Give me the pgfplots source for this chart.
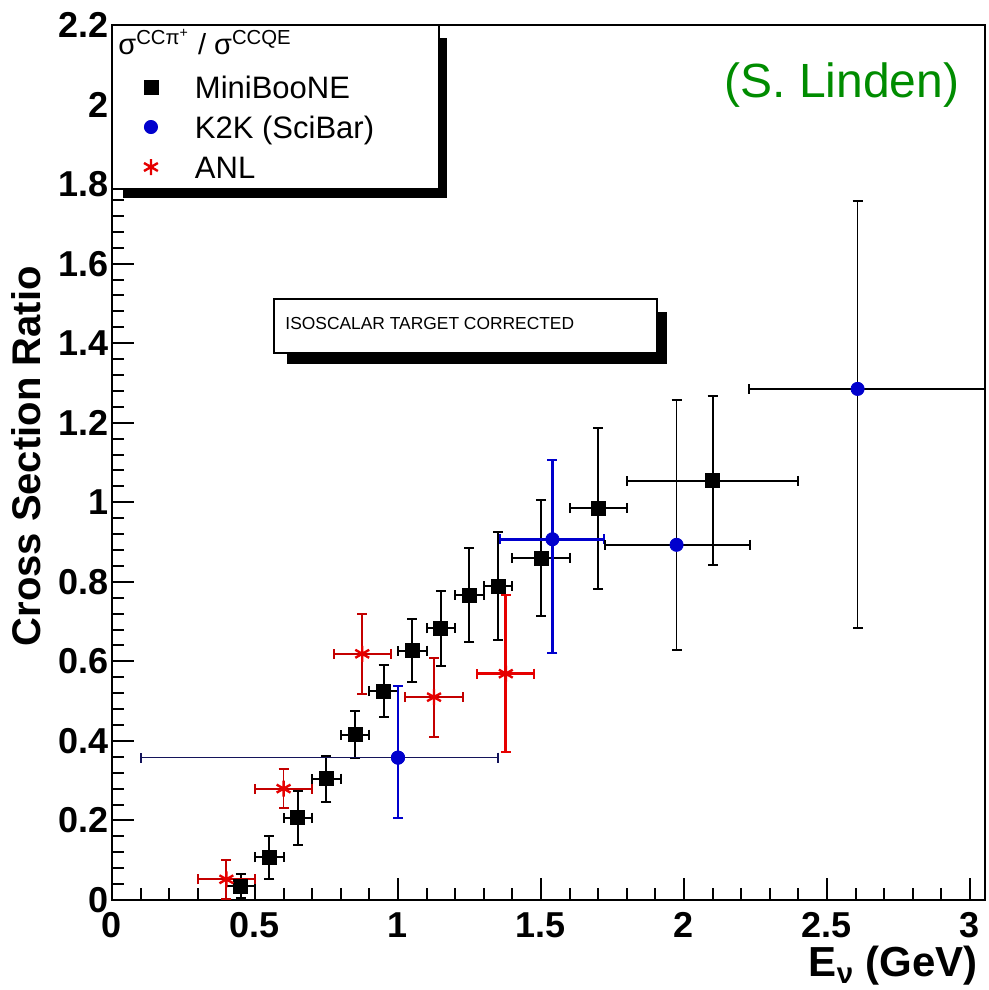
\documentclass[border=0pt]{standalone}
\usepackage{pgfplots}
\pgfplotsset{compat=1.18}
\usepackage{fontspec}
\setmainfont{Liberation Sans}
\definecolor{kblue}{RGB}{0,0,205}
\definecolor{kdark}{RGB}{20,20,90}
\definecolor{anlred}{RGB}{230,0,0}
\definecolor{lgreen}{RGB}{0,140,0}
\begin{document}
\begin{tikzpicture}
\begin{axis}[
  scale only axis, width=436.5pt, height=437.5pt,
  xmin=0, xmax=3.0525, ymin=0, ymax=2.2,
  axis line style={line width=1.2pt},
  xtick={0,0.5,1,1.5,2,2.5,3},
  ytick={0,0.2,0.4,0.6,0.8,1,1.2,1.4,1.6,1.8,2,2.2},
  minor x tick num=4, minor y tick num=4,
  tick align=inside, xtick pos=bottom, ytick pos=left,
  major tick length=11pt, minor tick length=6pt,
  tick style={line width=1pt, black},
  /pgf/number format/assume math mode=true,
  ticklabel style={font=\fontsize{18}{20}\selectfont\bfseries, inner sep=1.5pt},
  xticklabel style={yshift=-4.5pt},
  xlabel={E\textsubscript{ν} (GeV)},
  xlabel style={at={(rel axis cs:1,-0.088)}, anchor=base east, font=\fontsize{21}{24}\selectfont\bfseries},
  ylabel={Cross Section Ratio},
  ylabel style={at={(rel axis cs:-0.0985,0.507)}, anchor=center, font=\fontsize{20}{22}\selectfont\bfseries},
  legend style={at={(rel axis cs:0.0366,0.9417)}, anchor=north west, draw=none, fill=none,
    inner sep=0pt, outer sep=0pt, font=\fontsize{15.5}{18}\selectfont,
    row sep=9pt, column sep=18.5pt, nodes={inner sep=0pt, text height=11pt, text depth=0pt}},
  legend cell align=left,
  error bars/error mark options={rotate=90, mark size=2.5pt, line width=1pt},
]
\coordinate (ll) at (rel axis cs:0,0);
\coordinate (ur) at (rel axis cs:1,1);
% decorative boxes
\fill[black] (rel axis cs:0.0126,0.8023) rectangle (rel axis cs:0.3837,0.9851);
\draw[fill=white, line width=1pt] (rel axis cs:0,0.8126) rectangle (rel axis cs:0.3746,1);
\fill[black] (rel axis cs:0.2005,0.6126) rectangle (rel axis cs:0.6357,0.672);
\draw[fill=white, line width=0.9pt] (rel axis cs:0.1856,0.6251) rectangle (rel axis cs:0.6243,0.6869);
\node[anchor=west, inner sep=0pt, font=\fontsize{8.7}{10}\selectfont] at (rel axis cs:0.1982,0.6594) {ISOSCALAR TARGET CORRECTED};
\node[anchor=base west, inner sep=0pt, font=\fontsize{14.5}{17}\selectfont] at (rel axis cs:0.0069,0.966) {σ\textsuperscript{CCπ\textsuperscript{+}} / σ\textsuperscript{CCQE}};
\node[anchor=center, text=lgreen, font=\fontsize{24}{28}\selectfont] at (rel axis cs:0.836,0.931) {(S. Linden)};

% MiniBooNE
\addplot[only marks, mark=square*, mark size=3.5pt, black,
  error bars/.cd, x dir=both, x explicit, y dir=both, y explicit,
  error bar style={line width=1pt, black}]
coordinates {
(0.45,0.035) +- (0.05,0.03)
(0.55,0.107) +- (0.05,0.055)
(0.65,0.207) +- (0.05,0.068)
(0.75,0.305) +- (0.05,0.058)
(0.85,0.416) +- (0.05,0.058)
(0.95,0.525) +- (0.05,0.066)
(1.05,0.627) +- (0.05,0.080)
(1.15,0.683) +- (0.05,0.094)
(1.25,0.767) +- (0.05,0.119)
(1.35,0.789) +- (0.05,0.135)
(1.50,0.860) +- (0.10,0.146)
(1.70,0.985) +- (0.10,0.202)
(2.10,1.054) +- (0.30,0.212)
};
\addlegendentry{MiniBooNE}

% K2K (SciBar)
\addplot[only marks, mark=*, mark size=3.3pt, kblue,
  error bars/.cd, x dir=both, x explicit, y dir=both, y explicit,
  error bar style={line width=1.3pt, kblue}]
coordinates {
(1.54,0.907) += (0.181,0.199) -= (0.183,0.287)
};
\addlegendentry{K2K (SciBar)}
\addplot[forget plot, only marks, mark=*, mark size=3.3pt, kblue,
  error bars/.cd, x dir=both, x explicit,
  error bar style={line width=0.8pt, kdark}]
coordinates {
(1.00,0.358) += (0.35,0) -= (0.90,0)
};
\addplot[forget plot, only marks, mark=*, mark size=3.3pt, kblue,
  error bars/.cd, y dir=both, y explicit,
  error bar style={line width=1.3pt, kblue}]
coordinates {
(1.00,0.358) += (0,0.18) -= (0,0.151)
};
\addplot[forget plot, only marks, mark=*, mark size=3.3pt, kblue,
  error bars/.cd, x dir=both, x explicit, y dir=both, y explicit,
  error bar style={line width=0.8pt, black}]
coordinates {
(1.974,0.893) += (0.258,0.363) -= (0.249,0.264)
(2.607,1.285) += (0.600,0.473) -= (0.381,0.601)
};

% ANL
\addplot[only marks, mark=asterisk, mark size=4pt, anlred, mark options={line width=1.2pt},
  error bars/.cd, x dir=both, x explicit, y dir=both, y explicit,
  error bar style={line width=0.9pt, anlred!85!black}]
coordinates {
(0.40,0.052) +- (0.10,0.049)
(0.60,0.280) +- (0.10,0.049)
(0.875,0.619) +- (0.10,0.100)
(1.126,0.510) +- (0.10,0.099)
};
\addlegendentry{ANL}
\addplot[forget plot, only marks, mark=asterisk, mark size=4pt, anlred, mark options={line width=1.2pt},
  error bars/.cd, x dir=both, x explicit, y dir=both, y explicit,
  error bar style={line width=1.4pt, anlred}]
coordinates {
(1.377,0.569) +- (0.10,0.197)
};
\end{axis}
\pgfresetboundingbox
\path ([xshift=-56pt,yshift=-45pt]ll) rectangle ([xshift=1.5pt,yshift=12.5pt]ur);
\end{tikzpicture}
\end{document}
